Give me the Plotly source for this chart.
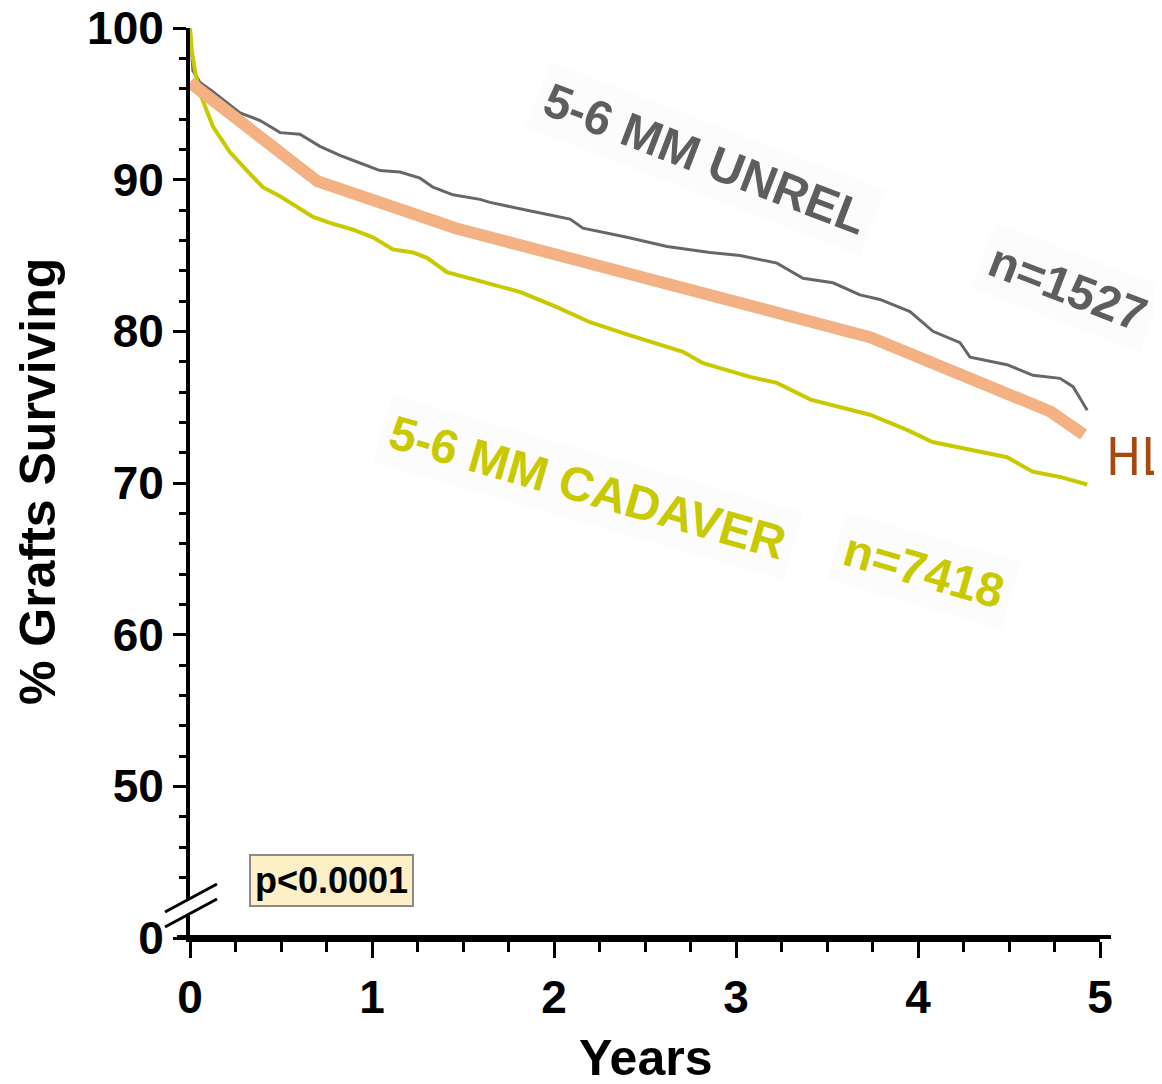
import plotly.graph_objects as go

# ---------------- data ----------------
unrel_years = [0, 0.016, 0.055, 0.126, 0.275, 0.385, 0.495, 0.604, 0.714, 0.824, 0.934,
               1.044, 1.154, 1.264, 1.335, 1.445, 1.593, 1.648, 1.885, 2.088, 2.159,
               2.401, 2.621, 2.857, 3.022, 3.225, 3.368, 3.533, 3.681, 3.791, 3.956,
               4.082, 4.231, 4.286, 4.489, 4.632, 4.78, 4.852, 4.93]
unrel_surv = [100, 97.2, 96.4, 95.8, 94.4, 93.9, 93.1, 93.0, 92.2, 91.6, 91.1,
              90.6, 90.5, 90.1, 89.5, 89.0, 88.7, 88.5, 87.9, 87.4, 86.8,
              86.2, 85.6, 85.2, 85.0, 84.5, 83.5, 83.2, 82.4, 82.1, 81.3,
              80.0, 79.25, 78.3, 77.8, 77.1, 76.9, 76.35, 74.8]

cad_years = [0, 0.01, 0.027, 0.055, 0.126, 0.22, 0.313, 0.40, 0.495, 0.588, 0.676,
             0.769, 0.896, 1.005, 1.115, 1.225, 1.302, 1.412, 1.61, 1.813, 2.016,
             2.198, 2.401, 2.599, 2.709, 2.819, 3.077, 3.225, 3.41, 3.736, 3.94,
             4.08, 4.16, 4.34, 4.49, 4.63, 4.78, 4.93]
cad_surv = [100, 98.5, 97.2, 95.7, 93.5, 91.8, 90.6, 89.5, 88.9, 88.2, 87.55,
            87.15, 86.7, 86.2, 85.4, 85.2, 84.85, 83.9, 83.27, 82.6, 81.6,
            80.6, 79.8, 79.1, 78.65, 77.9, 77.0, 76.6, 75.5, 74.5, 73.5,
            72.7, 72.5, 72.1, 71.7, 70.75, 70.4, 69.9]

hla_years = [0, 0.70, 1.46, 3.74, 4.73, 4.91]
hla_surv = [96.4, 89.9, 86.8, 79.6, 74.7, 73.2]

y_tickvals = [40, 50, 60, 70, 80, 90, 100]
y_ticktext = ["0", "50", "60", "70", "80", "90", "100"]
x_tickvals = [0, 1, 2, 3, 4, 5]

GRAY = "#676767"
YEL = "#c9c900"
ORANGE = "#f4b183"
FONT = "Liberation Sans, Arial, sans-serif"

# page pixel geometry (the page body adds an 8px offset)
OFF = 8
L, R, T, B = 190, 1100, 28, 938      # plot area in page pixels
W, H = 1162 - OFF, 1084 - OFF         # figure size


def px(xp):
    return (xp - L) / (R - L)


def py(yp):
    return (B - yp) / (B - T)


fig = go.Figure()
fig.add_trace(go.Scatter(x=unrel_years, y=unrel_surv, mode="lines",
                         line=dict(color=GRAY, width=3), showlegend=False))
fig.add_trace(go.Scatter(x=cad_years, y=cad_surv, mode="lines",
                         line=dict(color=YEL, width=4), showlegend=False))
fig.add_trace(go.Scatter(x=hla_years, y=hla_surv, mode="lines",
                         line=dict(color=ORANGE, width=12), showlegend=False))

shapes = [
    # x axis extension
    dict(type="line", xref="paper", yref="paper", x0=px(177), x1=px(1111),
         y0=py(937), y1=py(937), line=dict(color="black", width=4), layer="above"),
    # axis break: white gap + two slashes
    dict(type="path", xref="paper", yref="paper",
         path=f"M {px(163)},{py(913)} L {px(218)},{py(884)} L {px(218)},{py(899)} L {px(163)},{py(928)} Z",
         fillcolor="white", line=dict(width=0), layer="above"),
    dict(type="line", xref="paper", yref="paper", x0=px(165), x1=px(217),
         y0=py(912), y1=py(884), line=dict(color="black", width=3), layer="above"),
    dict(type="line", xref="paper", yref="paper", x0=px(165), x1=px(217),
         y0=py(927), y1=py(899), line=dict(color="black", width=3), layer="above"),
]

BAND = "rgba(249,249,249,0.5)"


def ann(text, xp, yp, **kw):
    d = dict(text=text, x=px(xp), y=py(yp), xref="paper", yref="paper",
             xanchor="center", yanchor="middle", showarrow=False)
    d.update(kw)
    return d


annotations = [
    ann("5-6 MM UNREL", 705, 158, textangle=21,
        font=dict(family=FONT, size=48, color="#5e5e5e", weight="bold"),
        bgcolor=BAND, borderpad=8),
    ann("n=1527", 1068, 287, textangle=21,
        font=dict(family=FONT, size=48, color="#5e5e5e", weight="bold"),
        bgcolor=BAND, borderpad=8),
    ann("5-6 MM CADAVER", 588, 487, textangle=16,
        font=dict(family=FONT, size=48, color=YEL, weight="bold"),
        bgcolor=BAND, borderpad=8),
    ann("n=7418", 924, 570, textangle=16,
        font=dict(family=FONT, size=48, color=YEL, weight="bold"),
        bgcolor=BAND, borderpad=8),
    ann("HLA", 1104, 457, xanchor="left",
        font=dict(family="Liberation Sans Narrow, DejaVu Sans Condensed, sans-serif",
                  size=52, color="#a9480e")),
    ann("p<0.0001", 331, 880,
        font=dict(family=FONT, size=36, color="black", weight="bold"),
        bgcolor="#fdefc6", bordercolor="#8a8a8a", borderwidth=2, borderpad=4),
    ann("% Grafts Surviving", 38, 482, textangle=-90,
        font=dict(family=FONT, size=50, color="black", weight="bold")),
    ann("Years", 645, 1058,
        font=dict(family=FONT, size=50, color="black", weight="bold")),
]

fig.update_layout(
    width=W, height=H,
    margin=dict(l=L - OFF, r=(W + OFF) - R, t=T - OFF, b=(H + OFF) - B, autoexpand=False),
    paper_bgcolor="white", plot_bgcolor="white",
    shapes=shapes, annotations=annotations,
    xaxis=dict(range=[0, 5], tickvals=x_tickvals, showgrid=False, zeroline=False,
               automargin=False, ticklabeloverflow="allow",
               showline=True, linecolor="black", linewidth=4,
               ticks="outside", ticklen=16, tickwidth=3, tickcolor="black",
               minor=dict(ticks="outside", ticklen=10, tickwidth=3, tickcolor="black",
                          dtick=0.25, tick0=0, showgrid=False),
               tickfont=dict(family=FONT, size=46, color="black", weight="bold")),
    yaxis=dict(range=[40, 100], tickvals=y_tickvals, ticktext=y_ticktext, showgrid=False,
               zeroline=False, automargin=False, ticklabeloverflow="allow",
               showline=True, linecolor="black", linewidth=4,
               ticks="outside", ticklen=13, tickwidth=3, tickcolor="black",
               minor=dict(ticks="outside", ticklen=7, tickwidth=3, tickcolor="black",
                          dtick=2, tick0=40, showgrid=False),
               tickfont=dict(family=FONT, size=46, color="black", weight="bold")),
)

fig.write_html("out.html")
